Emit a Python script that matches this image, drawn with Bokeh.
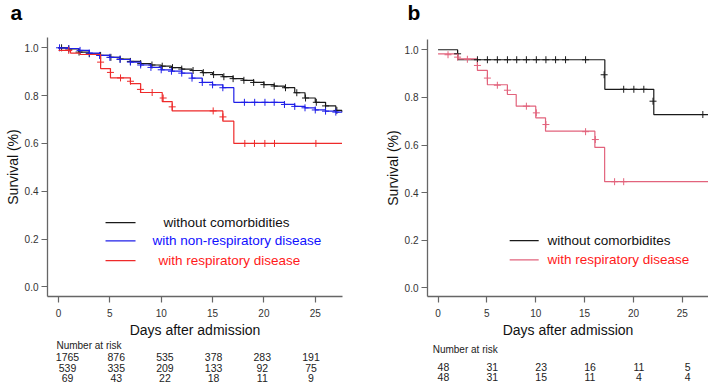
import numpy as np
from bokeh.plotting import figure
from bokeh.models import Range1d, FixedTicker
from bokeh.layouts import row, column
from bokeh.embed import file_html
from bokeh.resources import INLINE
from bokeh.core.properties import value

FONT = "Liberation Sans"

# ---------------- Panel a data ----------------
A_NOCOM_T = [0, 1, 2, 3, 4, 5, 6, 7, 8, 9, 10, 11, 12, 13, 14, 15, 16, 17, 18, 19, 20, 21, 22, 23, 24, 25, 26, 27, 27.6]
A_NOCOM_S = [1.0, 0.995, 0.982, 0.975, 0.968, 0.960, 0.953, 0.943, 0.934, 0.928, 0.923, 0.917, 0.911, 0.905, 0.896,
             0.888, 0.879, 0.871, 0.864, 0.855, 0.846, 0.840, 0.833, 0.812, 0.790, 0.772, 0.757, 0.738, 0.732]
A_NONRESP_T = [0, 1, 2, 3, 4, 5, 6, 7, 8, 9, 10, 11, 12, 13, 14, 15, 16, 17.07, 22, 23, 24, 25, 26, 27, 27.6]
A_NONRESP_S = [1.0, 0.997, 0.989, 0.978, 0.968, 0.960, 0.951, 0.940, 0.928, 0.918, 0.908, 0.902, 0.894, 0.873, 0.855,
               0.845, 0.833, 0.772, 0.763, 0.755, 0.749, 0.740, 0.735, 0.731, 0.729]
A_RESP_T = [0, 1.17, 2.1, 4.1, 5.06, 7.0, 8.0, 10.1, 11.07, 16.0, 17.07, 27.6]
A_RESP_S = [0.989, 0.978, 0.972, 0.913, 0.874, 0.850, 0.813, 0.775, 0.736, 0.693, 0.600, 0.600]

A_NOCOM_CENS = [0.3, 1, 2, 3, 4.1, 5.1, 6, 7, 8, 9.1, 10.1, 11.1, 12, 13.1, 14.1, 15.1, 16.1, 17.0, 18.05, 19,
                20, 21, 22.1, 23.2, 24.05, 25.1, 26, 27.1]
A_NONRESP_CENS = [0.1, 1, 2.1, 3, 4, 5, 6, 7, 8, 9, 10, 11, 12, 13, 14, 15, 16, 18.1, 19.1, 20.1, 21, 22, 23,
                  24, 25, 26, 27]
A_RESP_CENS_T = [1.0, 4.1, 5.06, 6.04, 7.01, 7.98, 9.12, 10.19, 11.07, 15.06, 16.01, 18.14, 19.08, 20.09, 21.03, 25.06]
A_RESP_CENS_S = [0.989, 0.940, 0.897, 0.874, 0.860, 0.826, 0.813, 0.790, 0.753, 0.736, 0.711, 0.600, 0.600, 0.600,
                 0.600, 0.600]

A_RISK_DAYS = [0, 5, 10, 15, 20, 25]
A_RISK_NOCOM = [1765, 876, 535, 378, 283, 191]
A_RISK_NONRESP = [539, 335, 209, 133, 92, 75]
A_RISK_RESP = [69, 43, 22, 18, 11, 9]
A_LABELS = ["without comorbidities", "with non-respiratory disease", "with respiratory disease"]

# ---------------- Panel b data ----------------
B_NOCOM_T = [0, 2.0, 17.07, 22.08, 27.7]
B_NOCOM_S = [1.0, 0.958, 0.834, 0.728, 0.728]
B_RESP_T = [0, 2.05, 4.03, 5.05, 7.1, 8.0, 10.0, 11.0, 16.05, 17.05, 27.7]
B_RESP_S = [0.983, 0.962, 0.913, 0.853, 0.812, 0.763, 0.714, 0.658, 0.590, 0.446, 0.446]
B_NOCOM_CENS_T = [2.0, 4.03, 5.05, 6.07, 7.1, 8.05, 9.04, 10.06, 11.04, 12.03, 13.05, 15.1, 17.0, 19.0, 20.04,
                  21.06, 22.0, 27.1]
B_NOCOM_CENS_S = [0.983, 0.958, 0.958, 0.958, 0.958, 0.958, 0.958, 0.958, 0.958, 0.958, 0.958, 0.958, 0.895,
                  0.834, 0.834, 0.834, 0.784, 0.728]
B_RESP_CENS_T = [1.02, 2.0, 3.0, 4.03, 5.05, 6.07, 7.1, 9.04, 10.06, 11.04, 15.1, 16.1, 18.07, 19.0]
B_RESP_CENS_S = [0.979, 0.969, 0.960, 0.934, 0.881, 0.851, 0.830, 0.763, 0.735, 0.686, 0.656, 0.623, 0.446, 0.446]

B_RISK_DAYS = [0, 5, 10, 15, 20, 25]
B_RISK_NOCOM = [48, 31, 23, 16, 11, 5]
B_RISK_RESP = [48, 31, 15, 11, 4, 4]
B_LABELS = ["without comorbidites", "with respiratory disease"]

PANEL_LETTERS = ["a", "b"]

X_TICKS = [0, 5, 10, 15, 20, 25]
Y_TICKS = [0.0, 0.2, 0.4, 0.6, 0.8, 1.0]

BLACK = "#1a1a1a"
BLUE = "#1f1fe8"
RED = "#ee2a2a"
PINK = "#e2637c"

STRIP_H = 27
TOP_H = 313
RISK_H = 383 - STRIP_H - TOP_H


def step_value(ts, ss, t):
    idx = 0
    for i, tt in enumerate(ts):
        if tt <= t:
            idx = i
    return ss[idx]


def bare_fig(width, height, xr, yr, left=0, right=0):
    f = figure(width=width, height=height, x_range=xr, y_range=yr,
               output_backend="svg", toolbar_location=None,
               min_border_left=left, min_border_right=right, min_border_top=0, min_border_bottom=0,
               x_axis_location=None, y_axis_location=None)
    f.outline_line_color = None
    f.grid.visible = False
    return f


def base_fig(width, border_right, border_top, frame_h, xr, yr):
    p = figure(width=width, height=TOP_H, x_range=Range1d(*xr), y_range=Range1d(*yr),
               output_backend="svg", toolbar_location=None,
               min_border_left=47, min_border_right=border_right,
               min_border_top=border_top, min_border_bottom=TOP_H - border_top - frame_h)
    p.outline_line_color = None
    p.grid.visible = False
    p.background_fill_color = "white"
    p.border_fill_color = "white"
    for ax in (p.xaxis[0], p.yaxis[0]):
        ax.axis_line_color = "#666666"
        ax.axis_line_width = 1.3
        ax.major_tick_line_color = "#666666"
        ax.major_tick_line_width = 1.2
        ax.major_tick_out = 6
        ax.major_tick_in = 0
        ax.minor_tick_line_color = None
        ax.major_label_text_font = FONT
        ax.major_label_text_font_size = "10px"
        ax.major_label_text_color = "#333333"
        ax.axis_label_text_font = FONT
        ax.axis_label_text_font_size = "14px"
        ax.axis_label_text_font_style = "normal"
        ax.axis_label_text_color = "#111111"
    p.xaxis.ticker = FixedTicker(ticks=X_TICKS)
    p.yaxis.ticker = FixedTicker(ticks=Y_TICKS)
    p.yaxis.major_label_overrides = {v: f"{v:.1f}" for v in Y_TICKS}
    p.xaxis.axis_label = "Days after admission"
    p.yaxis.axis_label = "Survival (%)"
    p.xaxis.major_label_standoff = 6
    p.xaxis.axis_label_standoff = 2
    p.yaxis.major_label_standoff = 3
    p.yaxis.axis_label_standoff = 1
    return p


# ---------------- panel letters strip ----------------
strip = bare_fig(708, STRIP_H, Range1d(0, 708), Range1d(STRIP_H, 0))
strip.text([10, 407], [11.5, 11.5], text=PANEL_LETTERS, text_font=value(FONT), text_font_size="21px",
           text_font_style="bold", text_color="#000000", text_baseline="middle", text_align="left")

# ---------------- Panel a ----------------
pa = base_fig(380, 38, 37 - STRIP_H, 260, (-1.07, 27.65), (-0.04, 1.043))
for ts, ss, cens, col in [(A_NOCOM_T, A_NOCOM_S, A_NOCOM_CENS, BLACK),
                          (A_NONRESP_T, A_NONRESP_S, A_NONRESP_CENS, BLUE)]:
    pa.step(ts, ss, mode="after", line_color=col, line_width=1.2)
    pa.scatter(cens, [step_value(ts, ss, c) for c in cens], marker="cross", size=7,
               line_color=col, line_width=1)
pa.step(A_RESP_T, A_RESP_S, mode="after", line_color=RED, line_width=1.2)
pa.scatter(A_RESP_CENS_T, A_RESP_CENS_S, marker="cross", size=7, line_color=RED, line_width=1)

leg_y = [0.269, 0.193, 0.110]
leg_tx = [10.22, 9.15, 9.74]
for yy, tx, lab, col, tcol in zip(leg_y, leg_tx, A_LABELS, [BLACK, BLUE, RED],
                                  ["#111111", "#1010ff", "#ff1a1a"]):
    pa.line([4.58, 7.5], [yy, yy], line_color=col, line_width=1.2)
    pa.text([tx], [yy], text=[lab], text_font=value(FONT), text_font_size="13.5px",
            text_color=tcol, text_baseline="middle", text_align="left")

ra = bare_fig(380, RISK_H, pa.x_range, Range1d(RISK_H, 0), left=47, right=38)
ra.text([-0.2], [4.5], text=["Number at risk"], text_font=value(FONT), text_font_size="10px",
        text_color="#222222", text_baseline="middle", text_align="left")
for row_vals, yy in [(A_RISK_NOCOM, 16.7), (A_RISK_NONRESP, 27.3), (A_RISK_RESP, 37.3)]:
    xs = [0.88 + d * 0.948 for d in A_RISK_DAYS]
    ra.text(xs, [yy] * len(xs), text=[str(v) for v in row_vals], text_font=value(FONT),
            text_font_size="10.5px", text_color="#222222", text_baseline="middle", text_align="center")

# ---------------- Panel b ----------------
pb = base_fig(328, 0, 39 - STRIP_H, 258, (-1.08, 27.68), (-0.036, 1.043))
pb.step(B_NOCOM_T, B_NOCOM_S, mode="after", line_color=BLACK, line_width=1.2)
pb.step(B_RESP_T, B_RESP_S, mode="after", line_color=PINK, line_width=1.2)
pb.scatter(B_NOCOM_CENS_T, B_NOCOM_CENS_S, marker="cross", size=7, line_color=BLACK, line_width=1)
pb.scatter(B_RESP_CENS_T, B_RESP_CENS_S, marker="cross", size=7, line_color=PINK, line_width=1)

for yy, lab, col, tcol in zip([0.199, 0.118], B_LABELS, [BLACK, PINK], ["#111111", "#ff1a1a"]):
    pb.line([7.33, 10.3], [yy, yy], line_color=col, line_width=1.2)
    pb.text([11.19], [yy], text=[lab], text_font=value(FONT), text_font_size="13.5px",
            text_color=tcol, text_baseline="middle", text_align="left")

rb = bare_fig(328, RISK_H, pb.x_range, Range1d(RISK_H, 0), left=47, right=0)
rb.text([-0.55], [9.3], text=["Number at risk"], text_font=value(FONT), text_font_size="10px",
        text_color="#222222", text_baseline="middle", text_align="left")
for row_vals, yy in [(B_RISK_NOCOM, 26), (B_RISK_RESP, 36.7)]:
    xs = [d + 0.55 for d in B_RISK_DAYS]
    rb.text(xs, [yy] * len(xs), text=[str(v) for v in row_vals], text_font=value(FONT),
            text_font_size="10.5px", text_color="#222222", text_baseline="middle", text_align="center")

layout = column(strip, row(column(pa, ra, spacing=0), column(pb, rb, spacing=0), spacing=0), spacing=0)
open("out.html", "w").write(file_html(layout, INLINE))
